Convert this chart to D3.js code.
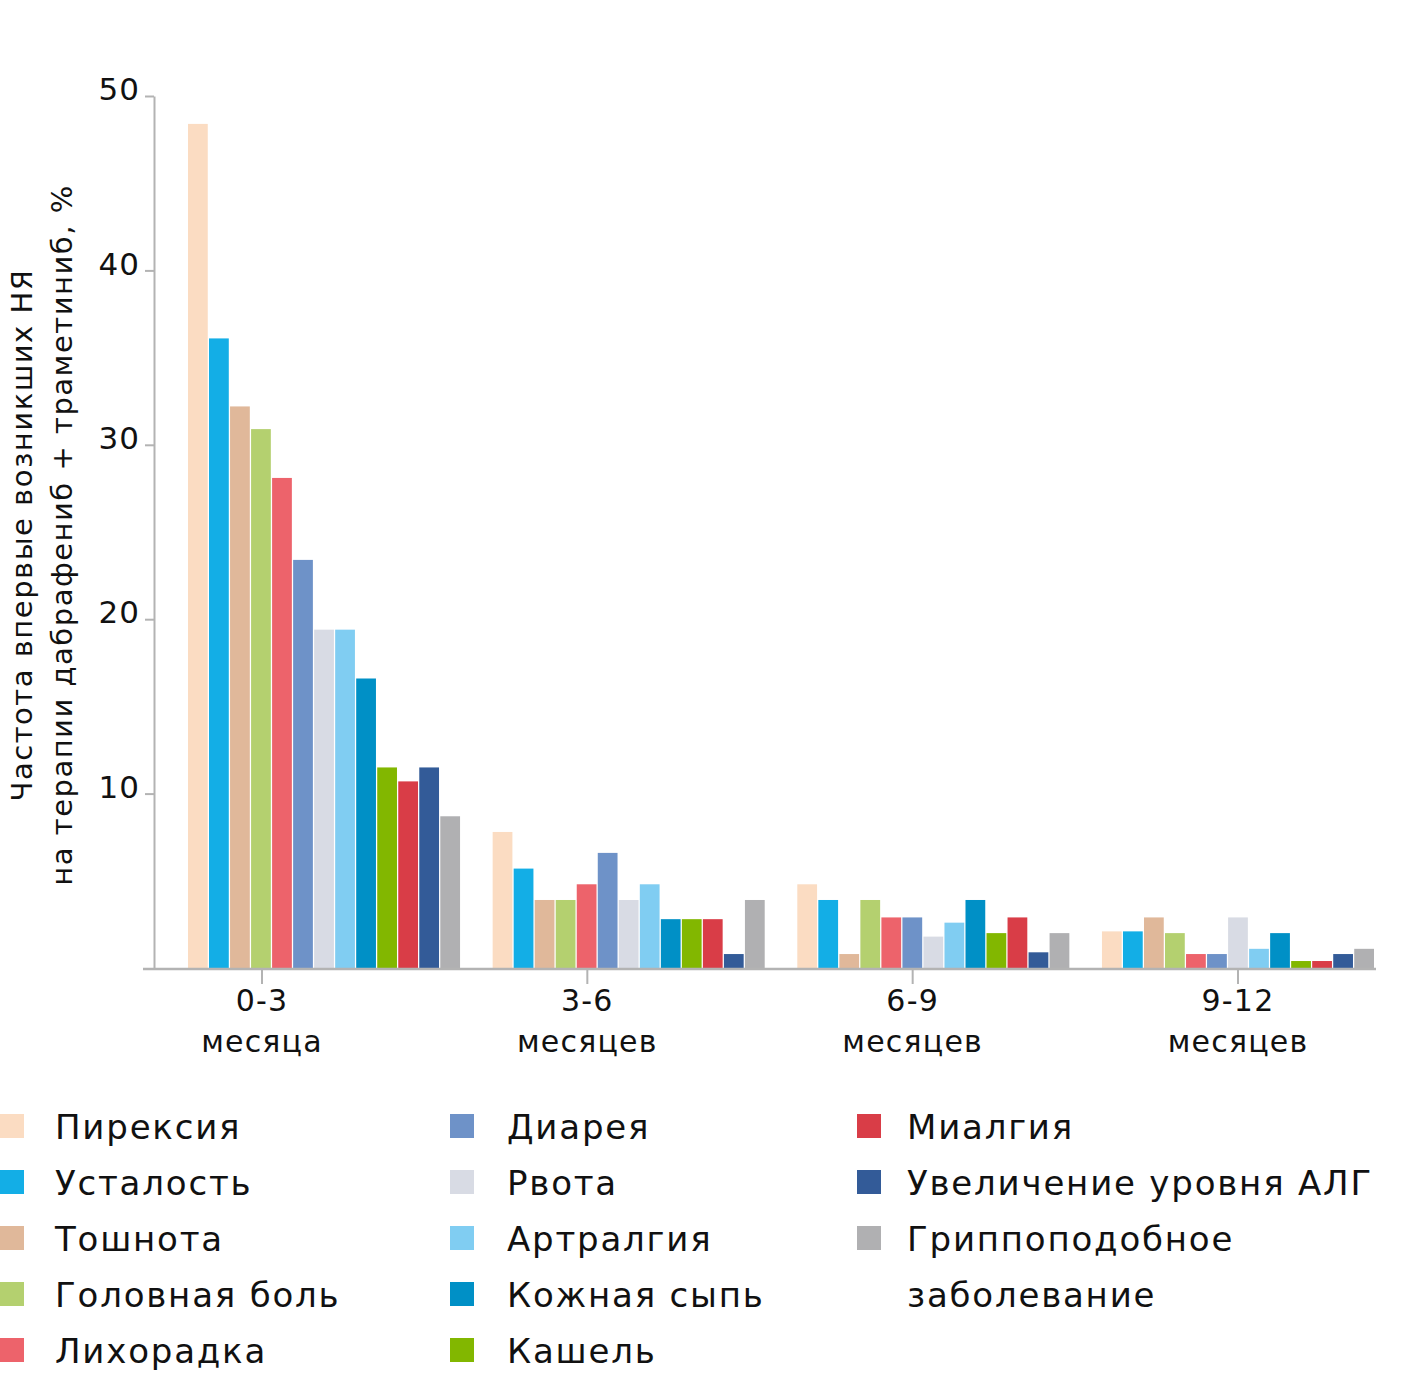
<!DOCTYPE html>
<html><head><meta charset="utf-8">
<script src="https://cdn.jsdelivr.net/npm/d3@7"></script>
<style>body{margin:0;background:#fff}svg{display:block}text{font-family:"DejaVu Sans",sans-serif;fill:#111}</style>
</head><body>
<svg id="c" width="1404" height="1380"></svg>
<script>
const groups = ["0-3|месяца", "3-6|месяцев", "6-9|месяцев", "9-12|месяцев"];
const series = ["Пирексия","Усталость","Тошнота","Головная боль","Лихорадка","Диарея","Рвота","Артралгия","Кожная сыпь","Кашель","Миалгия","Увеличение уровня АЛГ","Гриппоподобное|заболевание"];
const colors = ["#fbdcc2","#13aee6","#e0b89a","#b4d06f","#ed636b","#6e92c8","#d8dbe4","#80cdf2","#0090c6","#82b700","#d93d47","#335b98","#b0b0b2"];
const v03 = [48.4,36.1,32.2,30.9,28.1,23.4,19.4,19.4,16.6,11.5,10.7,11.5,8.7];
const v36 = [7.8,5.7,3.9,3.9,4.8,6.6,3.9,4.8,2.8,2.8,2.8,0.8,3.9];
const v69 = [4.8,3.9,0.8,3.9,2.9,2.9,1.8,2.6,3.9,2.0,2.9,0.9,2.0];
const v912 = [2.1,2.1,2.9,2.0,0.8,0.8,2.9,1.1,2.0,0.4,0.4,0.8,1.1];
const values = [v03, v36, v69, v912];
const yTicks = [10,20,30,40,50];
const yTitle = ["Частота впервые возникших НЯ","на терапии дабрафениб + траметиниб, %"];

const svg = d3.select("#c");
const y = d3.scaleLinear().domain([0,50]).range([968,96]);
const x0 = d3.scaleBand().domain(groups).range([188,1374]).paddingInner(0.107);
const x1 = d3.scaleBand().domain(series).range([0,x0.bandwidth()]).paddingInner(0.06);
const color = d3.scaleOrdinal().domain(series).range(colors);
const xl = d3.scalePoint().domain(groups).range([262,1238]);

// bars
groups.forEach((g,gi)=>{
  svg.append("g").selectAll("rect").data(series).join("rect")
    .attr("x", s=>x0(g)+x1(s)).attr("width", x1.bandwidth())
    .attr("y", (s,i)=>y(values[gi][i])).attr("height",(s,i)=>y(0)-y(values[gi][i]))
    .attr("fill", s=>color(s));
});

// y axis
const ya = svg.append("g").attr("transform","translate(154,0)")
  .call(d3.axisLeft(y).tickValues(yTicks).tickSize(9).tickPadding(5).tickSizeOuter(0));
ya.select(".domain").attr("stroke","#b3b3b3").attr("stroke-width",2);
ya.selectAll(".tick line").attr("stroke","#b3b3b3").attr("stroke-width",2);
ya.selectAll(".tick text").attr("font-size",31).attr("font-family","DejaVu Sans").attr("fill","#111").attr("dy","0.12em").attr("letter-spacing",1);

// x axis
svg.append("line").attr("x1",143).attr("x2",1376).attr("y1",969).attr("y2",969).attr("stroke","#b3b3b3").attr("stroke-width",2.5);
const xt = svg.append("g").selectAll("g").data(groups).join("g").attr("transform",g=>`translate(${xl(g)},0)`);
xt.append("line").attr("y1",969).attr("y2",984).attr("stroke","#b3b3b3").attr("stroke-width",2);
xt.append("text").attr("text-anchor","middle").attr("font-size",30).attr("letter-spacing",1.2).attr("y",1011).text(g=>g.split("|")[0]);
xt.append("text").attr("text-anchor","middle").attr("font-size",30).attr("letter-spacing",1.2).attr("y",1052).text(g=>g.split("|")[1]);

// y title
svg.append("g").attr("transform","translate(0,535) rotate(-90)").selectAll("text").data(yTitle).join("text")
  .attr("text-anchor","middle").attr("font-size",29).attr("letter-spacing",1.5).attr("x",0).attr("y",(d,i)=>32+i*40).text(d=>d);

// legend
const colX = [[0,55],[450,507],[857,907]];
const per = 5;
series.forEach((s,i)=>{
  const c = Math.floor(i/per), r = i%per;
  const cy = 1127 + r*56;
  svg.append("rect").attr("x",colX[c][0]).attr("y",cy-13).attr("width",24).attr("height",24).attr("fill",colors[i]);
  s.split("|").forEach((line,li)=>{
    svg.append("text").attr("x",colX[c][1]).attr("y",cy+12+li*56).attr("font-size",34).attr("letter-spacing",1.8).text(line);
  });
});
</script>
</body></html>
